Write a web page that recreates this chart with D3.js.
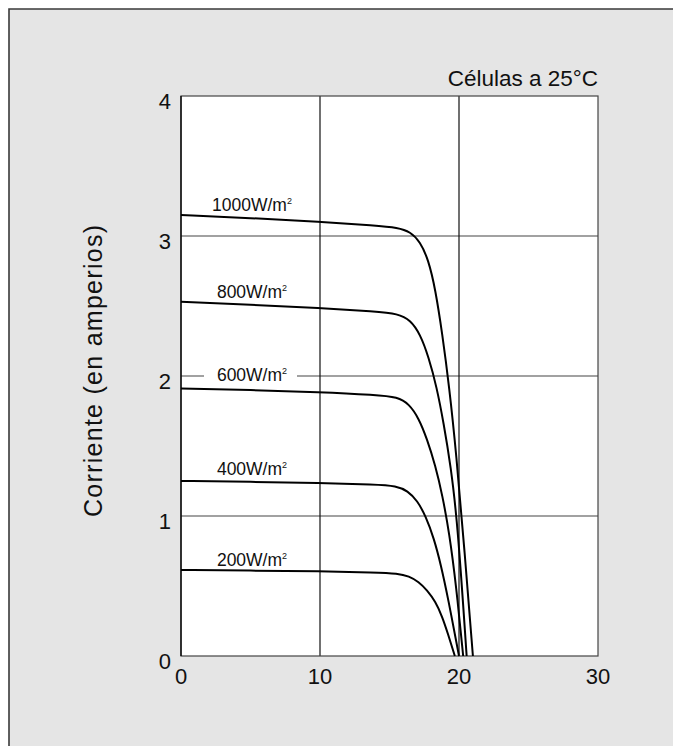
<!DOCTYPE html>
<html>
<head>
<meta charset="utf-8">
<script src="https://cdn.jsdelivr.net/npm/d3@7"></script>
<style>
  html, body { margin: 0; background: #fff; overflow: hidden; }
  svg { display: block; }
</style>
</head>
<body>
<svg></svg>
<script>
(() => {
    const width = 673;
    const height = 746;

    // curves: [volts, amps]
    const curve1000 = [[0,3.15],[5,3.128],[10,3.102],[14,3.075],[15.6,3.06],[16.5,3.03],[17.2,2.96],[17.8,2.83],[18.3,2.62],[18.8,2.3],[19.3,1.92],[19.8,1.45],[20.4,0.75],[21.0,0]];
    const curve800 = [[0,2.53],[5,2.51],[10,2.485],[14,2.46],[15.6,2.445],[16.5,2.4],[17.2,2.3],[17.8,2.14],[18.4,1.92],[18.9,1.66],[19.4,1.36],[19.9,0.95],[20.55,0]];
    const curve600 = [[0,1.91],[5,1.9],[10,1.885],[14,1.865],[15.6,1.85],[16.4,1.8],[17.1,1.7],[17.7,1.55],[18.3,1.36],[18.8,1.15],[19.3,0.88],[19.8,0.5],[20.3,0]];
    const curve400 = [[0,1.25],[5,1.245],[10,1.235],[14,1.225],[15.5,1.215],[16.3,1.18],[17.0,1.11],[17.6,1.0],[18.2,0.84],[18.7,0.65],[19.2,0.42],[20.0,0]];
    const curve200 = [[0,0.615],[5,0.61],[10,0.605],[14,0.597],[15.6,0.59],[16.4,0.57],[17.1,0.53],[17.7,0.47],[18.3,0.39],[18.8,0.28],[19.2,0.16],[19.7,0]];

    const curves = [curve1000, curve800, curve600, curve400, curve200];
    const labels = ["1000W/m", "800W/m", "600W/m", "400W/m", "200W/m"];

    const xTicks = [0, 10, 20, 30];
    const yTicks = [0, 1, 2, 3, 4];

    const svg = d3.select("svg")
        .attr("width", width)
        .attr("height", height);

    // grey panel, runs off the right and bottom edges
    svg.append("rect")
        .attr("x", 9)
        .attr("y", 9)
        .attr("width", width)
        .attr("height", height)
        .attr("fill", "#e5e5e5");
    svg.append("path")
        .attr("d", `M9,${height}V9H${width}`)
        .attr("fill", "none")
        .attr("stroke", "#3a3a3a")
        .attr("stroke-width", 1.6);

    const x = d3.scaleLinear().domain([0, 30]).range([181, 598]);
    const y = d3.scaleLinear().domain([0, 4]).range([656, 96]);

    svg.append("rect")
        .attr("x", x(0))
        .attr("y", y(4))
        .attr("width", x(30) - x(0))
        .attr("height", y(0) - y(4))
        .attr("fill", "white");

    // horizontal grid
    svg.append("g")
        .selectAll("line")
        .data([1, 2, 3])
        .enter()
        .append("line")
        .attr("x1", x(0))
        .attr("x2", x(30))
        .attr("y1", d => y(d))
        .attr("y2", d => y(d))
        .attr("stroke", "#444")
        .attr("stroke-width", 1.2);

    // vertical grid
    svg.append("g")
        .selectAll("line")
        .data([10, 20])
        .enter()
        .append("line")
        .attr("x1", d => x(d))
        .attr("x2", d => x(d))
        .attr("y1", y(0))
        .attr("y2", y(4))
        .attr("stroke", "#111")
        .attr("stroke-width", 1.2);

    // frame of plot
    svg.append("rect")
        .attr("x", x(0))
        .attr("y", y(4))
        .attr("width", x(30) - x(0))
        .attr("height", y(0) - y(4))
        .attr("fill", "none")
        .attr("stroke", "#444")
        .attr("stroke-width", 1.2);
    svg.append("line")
        .attr("x1", x(0)).attr("x2", x(0))
        .attr("y1", y(0)).attr("y2", y(4))
        .attr("stroke", "#000")
        .attr("stroke-width", 1.3);

    // white knockout behind the 600 label on the grid line
    svg.append("rect")
        .attr("x", 204)
        .attr("y", y(2) - 6)
        .attr("width", 93)
        .attr("height", 12)
        .attr("fill", "white");

    // labels sit just above the start of each curve
    const labelY = [211, 298, 381, 475, 566];
    const lab = svg.append("g")
        .attr("font-family", "'Liberation Sans', Arial, sans-serif")
        .attr("font-size", 17.5)
        .attr("fill", "#111");

    labels.forEach((t, i) => {
        const tx = lab.append("text")
            .attr("x", 252)
            .attr("y", labelY[i])
            .attr("text-anchor", "middle");
        tx.append("tspan").text(t);
        tx.append("tspan")
            .attr("font-size", 9)
            .attr("dy", -7)
            .text("2");
    });

    const line = d3.line()
        .x(d => x(d[0]))
        .y(d => y(d[1]))
        .curve(d3.curveBasis);

    svg.append("g")
        .selectAll("path")
        .data(curves)
        .enter()
        .append("path")
        .attr("d", line)
        .attr("fill", "none")
        .attr("stroke", "#000")
        .attr("stroke-width", 2);

    // tick labels
    const tickFont = "'Liberation Sans Narrow', 'Liberation Sans', Arial, sans-serif";
    svg.append("g")
        .selectAll("text")
        .data(xTicks)
        .enter()
        .append("text")
        .attr("x", d => x(d))
        .attr("y", 684)
        .attr("text-anchor", "middle")
        .attr("font-family", tickFont)
        .attr("font-size", 22)
        .attr("fill", "#111")
        .text(d => d);

    svg.append("g")
        .selectAll("text")
        .data(yTicks)
        .enter()
        .append("text")
        .attr("x", 171)
        .attr("y", d => y(d) + 13)
        .attr("text-anchor", "end")
        .attr("font-family", tickFont)
        .attr("font-size", 22)
        .attr("fill", "#111")
        .text(d => d);

    svg.append("text")
        .attr("x", x(30))
        .attr("y", 86)
        .attr("text-anchor", "end")
        .attr("font-family", "'Liberation Sans', Arial, sans-serif")
        .attr("font-size", 22.5)
        .attr("fill", "#111")
        .text("Células a 25°C");

    svg.append("text")
        .attr("transform", "translate(102,371) rotate(-90)")
        .attr("text-anchor", "middle")
        .attr("font-family", "'Liberation Sans', Arial, sans-serif")
        .attr("font-size", 25)
        .attr("textLength", 292)
        .attr("lengthAdjust", "spacing")
        .attr("fill", "#111")
        .text("Corriente (en amperios)");
})();
</script>
</body>
</html>
